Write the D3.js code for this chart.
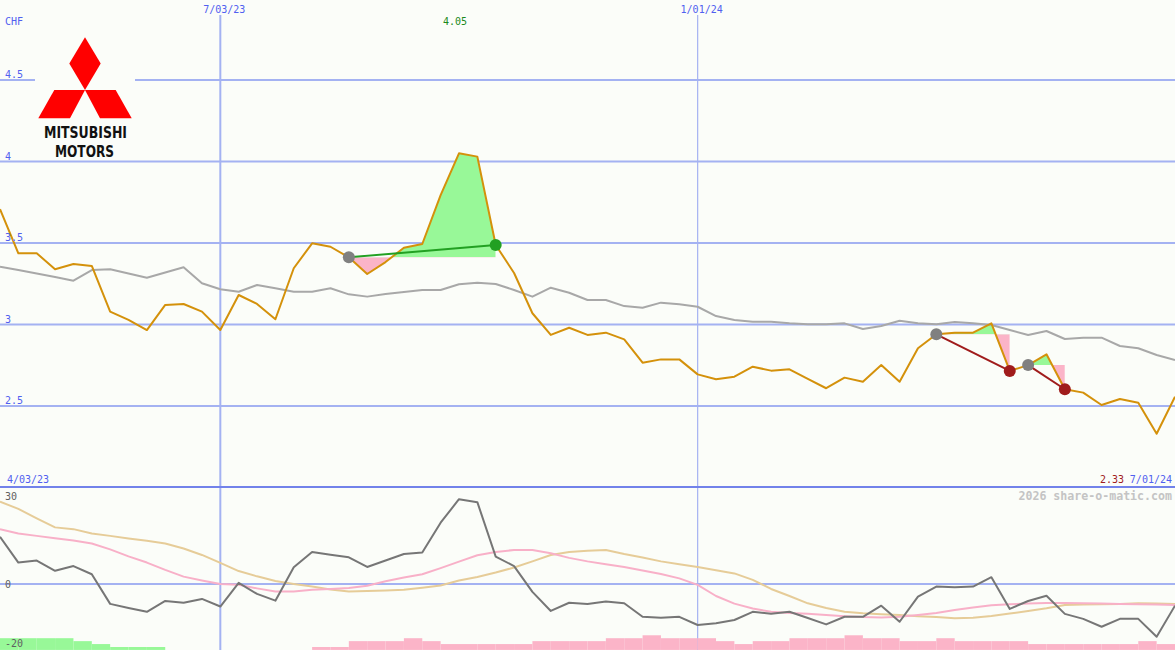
<!DOCTYPE html>
<html lang="en">
<head>
<meta charset="utf-8">
<title>Mitsubishi Motors CHF</title>
<script src="https://cdn.jsdelivr.net/npm/d3@7"></script>
<style>
  body { margin: 0; background: #fbfdf9; }
  svg { display: block; }
  text { font-family: "DejaVu Sans Mono", monospace; font-size: 10px; }
</style>
</head>
<body>
<script type="text/javascript">

    // weekly closes, index 0 .. 64
    var price = [3.707, 3.437, 3.437, 3.339, 3.371, 3.359, 3.079, 3.028, 2.966, 3.120,
        3.126, 3.079, 2.966, 3.181, 3.126, 3.032, 3.345, 3.498, 3.477, 3.412,
        3.310, 3.383, 3.471, 3.494, 3.794, 4.05, 4.03, 3.488, 3.316, 3.069,
        2.936, 2.980, 2.936, 2.950, 2.909, 2.766, 2.786, 2.786, 2.694, 2.664,
        2.680, 2.741, 2.717, 2.725, 2.666, 2.609, 2.674, 2.649, 2.751, 2.649,
        2.854, 2.940, 2.950, 2.950, 3.007, 2.715, 2.751, 2.817, 2.603, 2.582,
        2.506, 2.543, 2.520, 2.33, 2.557];

    var average = [3.355, 3.334, 3.313, 3.291, 3.269, 3.334, 3.339, 3.313, 3.287, 3.319,
        3.351, 3.253, 3.216, 3.201, 3.242, 3.222, 3.201, 3.201, 3.222, 3.185,
        3.171, 3.187, 3.199, 3.212, 3.212, 3.247, 3.256, 3.248, 3.212, 3.171,
        3.226, 3.195, 3.150, 3.150, 3.113, 3.103, 3.134, 3.124, 3.109, 3.052,
        3.028, 3.017, 3.017, 3.007, 3.001, 3.001, 3.007, 2.972, 2.991, 3.023,
        3.007, 3.001, 3.015, 3.007, 2.997, 2.966, 2.936, 2.960, 2.911, 2.919,
        2.919, 2.868, 2.854, 2.813, 2.782];

    var momentum = [16.1, 7.3, 8.0, 4.5, 6.1, 3.3, -6.8, -8.2, -9.5, -5.8,
        -6.4, -5.1, -7.7, 0.4, -3.4, -5.7, 5.7, 10.9, 10.0, 9.1,
        5.8, 8.0, 10.2, 10.7, 20.9, 28.9, 27.9, 9.3, 6.1, -2.7,
        -9.2, -6.4, -6.8, -6.0, -6.6, -11.2, -11.5, -11.2, -14.0, -13.4,
        -12.3, -9.5, -10.2, -9.5, -11.6, -13.8, -11.2, -11.2, -7.4, -12.9,
        -4.3, -0.9, -1.1, -0.9, 2.3, -8.5, -5.8, -4.0, -10.2, -11.9,
        -14.6, -11.9, -11.9, -18.0, -7.4];

    var fastSignal = [18.7, 17.2, 16.4, 15.6, 14.8, 13.8, 11.8, 9.4, 7.3, 4.8,
        2.5, 1.2, 0, -0.3, -1.5, -2.6, -2.6, -2.0, -1.7, -1.4,
        -0.6, 0.9, 2.2, 3.3, 5.4, 7.6, 9.8, 10.9, 11.6, 11.6,
        10.5, 8.9, 7.7, 6.7, 5.8, 4.6, 3.4, 1.9, -0.3, -4.1,
        -6.7, -8.4, -9.5, -9.9, -10.2, -10.6, -11.0, -11.3, -11.4, -11.2,
        -10.6, -9.9, -8.9, -8.0, -7.3, -6.9, -6.7, -6.5, -6.5, -6.6,
        -6.7, -6.8, -6.9, -7.0, -7.2];

    var slowSignal = [28.1, 25.6, 22.4, 19.3, 18.7, 17.2, 16.4, 15.5, 14.7, 13.8,
        12.1, 9.9, 7.2, 4.4, 2.6, 1.0, 0, -0.9, -1.9, -2.6,
        -2.4, -2.2, -2.0, -1.3, -0.5, 1.2, 2.4, 3.9, 5.6, 7.7,
        9.9, 10.9, 11.3, 11.6, 10.2, 9.0, 7.7, 6.7, 5.8, 4.7,
        3.6, 1.4, -1.7, -4.1, -6.6, -8.2, -9.5, -10.0, -10.3, -10.6,
        -11.0, -11.3, -11.7, -11.5, -10.9, -10.1, -9.2, -8.3, -7.2, -7.0,
        -6.9, -6.8, -6.6, -6.7, -6.8];

    // strength bars: + green, - pink
    var strength = [4, 4, 4, 4, 3, 2, 1, 1, 1, 0,
        0, 0, 0, 0, 0, 0, 0, -1, -1, -3,
        -3, -3, -4, -3, -2, -2, -2, -2, -2, -3,
        -3, -3, -3, -4, -4, -5, -4, -4, -4, -3,
        -2, -3, -3, -4, -4, -4, -5, -4, -4, -3,
        -3, -4, -3, -3, -3, -3, -2, -2, -2, -2,
        -2, -2, -3, -2, 0];

    // trades: entry week, exit week
    var tradeStart = [19, 51, 56];
    var tradeEnd = [27, 55, 58];

    var dateTickIdx = [12, 38];
    var dateTickLabels = ["7/03/23", "1/01/24"];
    var startLabel = "4/03/23";
    var endLabel = "7/01/24";

    var priceTicks = [4.5, 4, 3.5, 3, 2.5];
    var priceTickLabels = ["4.5", "4", "3.5", "3", "2.5"];
    var lowerTicks = [30, 0, -20];
    var lowerTickLabels = ["30", "0", "-20"];

    var width = 1175;
    var height = 650;
    var bg = "#fbfdf9";
    var gridColor = "#a4b2f2";
    var labelColor = "#5060f0";

    var x = d3.scaleLinear().domain([0, price.length - 1]).range([0, width]);
    var y = d3.scaleLinear().domain([2.5, 4.5]).range([406, 80]);
    var yLow = d3.scaleLinear().domain([-20, 30]).range([642.6, 496]);

    var svg = d3.select("body").append("svg")
        .attr("width", width)
        .attr("height", height);

    svg.append("rect").attr("width", width).attr("height", height).attr("fill", bg);

    // horizontal grid
    svg.selectAll(".hgrid")
        .data(priceTicks)
        .enter()
        .append("line")
        .attr("x1", 0).attr("x2", width)
        .attr("y1", function (d) { return y(d); })
        .attr("y2", function (d) { return y(d); })
        .attr("stroke", gridColor)
        .attr("stroke-width", 2);

    svg.append("line")
        .attr("x1", 0).attr("x2", width)
        .attr("y1", yLow(0)).attr("y2", yLow(0))
        .attr("stroke", gridColor)
        .attr("stroke-width", 2);

    // vertical grid
    svg.selectAll(".vgrid")
        .data(dateTickIdx)
        .enter()
        .append("line")
        .attr("x1", function (d) { return x(d); })
        .attr("x2", function (d) { return x(d); })
        .attr("y1", 15).attr("y2", height)
        .attr("stroke", gridColor)
        .attr("stroke-width", function (d, i) { return i == 0 ? 2 : 1.2; });

    // separator between panels
    svg.append("line")
        .attr("x1", 0).attr("x2", width)
        .attr("y1", 487).attr("y2", 487)
        .attr("stroke", "#7282ea")
        .attr("stroke-width", 2);

    // logo
    svg.append("rect")
        .attr("x", 35).attr("y", 30).attr("width", 100).attr("height", 127)
        .attr("fill", bg);
    var logo = [
        [[85, 37.3], [100.7, 63.6], [85, 90], [69.3, 63.6]],
        [[54.3, 90], [85, 90], [70, 118.3], [38.3, 118.3]],
        [[85, 90], [115.7, 90], [131.7, 118.3], [100, 118.3]]
    ];
    svg.selectAll(".diamond")
        .data(logo)
        .enter()
        .append("polygon")
        .attr("points", function (d) { return d.join(" "); })
        .attr("fill", "#ff0000");
    svg.append("text")
        .attr("x", 44).attr("y", 138)
        .attr("textLength", 83).attr("lengthAdjust", "spacingAndGlyphs")
        .style("font-family", "'DejaVu Sans Condensed', 'DejaVu Sans', sans-serif")
        .style("font-weight", "bold").style("font-size", "16px")
        .attr("fill", "#111")
        .text("MITSUBISHI");
    svg.append("text")
        .attr("x", 55).attr("y", 157)
        .attr("textLength", 59).attr("lengthAdjust", "spacingAndGlyphs")
        .style("font-family", "'DejaVu Sans Condensed', 'DejaVu Sans', sans-serif")
        .style("font-weight", "bold").style("font-size", "16px")
        .attr("fill", "#111")
        .text("MOTORS");

    // lower panel strength bars
    var barBase = -22.5;
    svg.selectAll(".bar")
        .data(strength)
        .enter()
        .append("rect")
        .attr("x", function (d, i) { return x(i); })
        .attr("width", x(1) - x(0))
        .attr("y", function (d) { return yLow(barBase + Math.abs(d)); })
        .attr("height", function (d) { return yLow(barBase) - yLow(barBase + Math.abs(d)); })
        .attr("fill", function (d) { return d > 0 ? "#98f898" : "#fbb4c8"; });

    // trade fills
    tradeStart.forEach(function (s, k) {
        var e = tradeEnd[k];
        var base = price[s];
        var idx = d3.range(s, e + 1);
        var area = d3.area()
            .x(function (i) { return x(i); })
            .y0(y(base))
            .y1(function (i) { return y(price[i]); });

        var up = svg.append("clipPath").attr("id", "up" + k);
        up.append("rect").attr("x", x(s)).attr("width", x(e) - x(s))
            .attr("y", 0).attr("height", y(base));
        var down = svg.append("clipPath").attr("id", "down" + k);
        down.append("rect").attr("x", x(s)).attr("width", x(e) - x(s))
            .attr("y", y(base)).attr("height", 487 - y(base));

        svg.append("path").datum(idx).attr("d", area)
            .attr("fill", "#98f898").attr("clip-path", "url(#up" + k + ")");
        svg.append("path").datum(idx).attr("d", area)
            .attr("fill", "#fbb4c8").attr("clip-path", "url(#down" + k + ")");
    });

    function drawLine(data, scale, color) {
        var line = d3.line()
            .x(function (d, i) { return x(i); })
            .y(function (d) { return scale(d); });
        svg.append("path")
            .datum(data)
            .attr("d", line)
            .attr("fill", "none")
            .attr("stroke", color)
            .attr("stroke-width", 2)
            .attr("stroke-linejoin", "round");
    }

    drawLine(average, y, "#a8a8a8");
    drawLine(price, y, "#d4910b");

    drawLine(slowSignal, yLow, "#e6cc98");
    drawLine(fastSignal, yLow, "#f8b0c8");
    drawLine(momentum, yLow, "#767676");

    // trade lines and markers
    tradeStart.forEach(function (s, k) {
        var e = tradeEnd[k];
        var col = price[e] > price[s] ? "#22a022" : "#a01c1c";
        svg.append("line")
            .attr("x1", x(s)).attr("y1", y(price[s]))
            .attr("x2", x(e)).attr("y2", y(price[e]))
            .attr("stroke", col).attr("stroke-width", 2);
        svg.append("circle").attr("cx", x(s)).attr("cy", y(price[s])).attr("r", 6)
            .attr("fill", "#808080");
        svg.append("circle").attr("cx", x(e)).attr("cy", y(price[e])).attr("r", 6)
            .attr("fill", col);
    });

    // labels
    svg.append("text").attr("x", 5).attr("y", 25).attr("fill", labelColor).text("CHF");

    svg.selectAll(".ptick")
        .data(priceTicks)
        .enter()
        .append("text")
        .attr("x", 5)
        .attr("y", function (d) { return y(d) - 2; })
        .attr("fill", labelColor)
        .text(function (d, i) { return priceTickLabels[i]; });

    svg.selectAll(".ltick")
        .data(lowerTicks)
        .enter()
        .append("text")
        .attr("x", 5)
        .attr("y", function (d) { return yLow(d) + 4; })
        .attr("fill", "#606060")
        .text(function (d, i) { return lowerTickLabels[i]; });

    svg.selectAll(".dtick")
        .data(dateTickIdx)
        .enter()
        .append("text")
        .attr("x", function (d) { return x(d) + 4; })
        .attr("y", 13)
        .attr("text-anchor", "middle")
        .attr("fill", labelColor)
        .text(function (d, i) { return dateTickLabels[i]; });

    var maxIdx = d3.maxIndex(price);
    var minIdx = d3.minIndex(price);
    svg.append("text")
        .attr("x", x(maxIdx) - 4).attr("y", 25)
        .attr("text-anchor", "middle")
        .attr("fill", "#1c8a1c")
        .text(price[maxIdx].toFixed(2));

    svg.append("text").attr("x", 7).attr("y", 483).attr("fill", labelColor).text(startLabel);
    svg.append("text").attr("x", 1172).attr("y", 483).attr("text-anchor", "end")
        .attr("fill", labelColor).text(endLabel);
    svg.append("text").attr("x", 1124).attr("y", 483).attr("text-anchor", "end")
        .attr("fill", "#a01c1c").text(price[minIdx].toFixed(2));

    svg.append("text")
        .attr("x", 1172).attr("y", 500)
        .attr("text-anchor", "end")
        .style("font-size", "11.6px")
        .style("font-weight", "bold")
        .attr("fill", "#c4c4c4")
        .text("2026 share-o-matic.com");

</script>
</body>
</html>
